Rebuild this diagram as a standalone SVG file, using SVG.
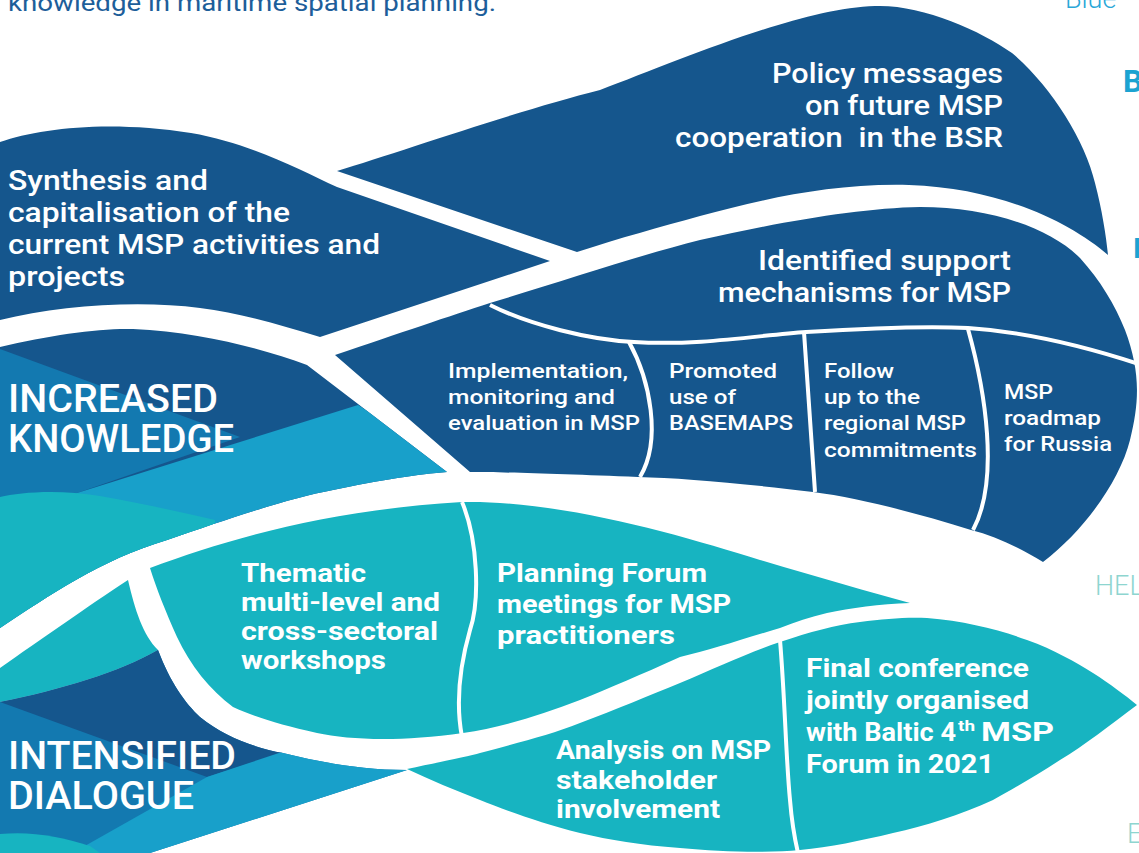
<svg xmlns="http://www.w3.org/2000/svg" width="1139" height="853" viewBox="0 0 1139 853">
<style>
.dk{fill:#15568D}.st{fill:#1379B0}.lt{fill:#18A0CA}.tl{fill:#17B4C1}
.sep{fill:none;stroke:#fff;stroke-width:4}
text{font-family:Roboto,"Noto Sans","Liberation Sans",sans-serif;fill:#fff}
.m{font-weight:500;font-size:27px}
.s{font-weight:500;font-size:21px}
.b{font-weight:700;font-size:25px}
.h{font-weight:500;font-size:38px}
.edge{font-weight:300;font-size:27px}
</style>
<defs>
<clipPath id="tailTop"><path d="M0,347 C50,335 100,328 133,329 C200,332 260,348 307,365 L447,472 C420,474 380,480 333,490 C290,498 230,518 167,540 C100,560 50,595 0,628 Z"/></clipPath>
<clipPath id="tailBot"><path d="M0,702 C60,690 120,672 158,650 C170,682 185,703 200,717 C225,737 255,748 283,753 C320,762 360,770 407,770 L150,853 L0,853 Z"/></clipPath>
</defs>
<rect width="1139" height="853" fill="#fff"/>

<!-- edge texts -->
<text x="8" y="11" style="font-weight:400;font-size:24px;fill:#1D5E9A" textLength="488" lengthAdjust="spacingAndGlyphs">knowledge in maritime spatial planning.</text>
<text x="1065" y="8" class="edge" style="fill:#2AA7D8">Blue</text>
<text x="1123" y="92" style="font-weight:700;font-size:31px;fill:#1CA3D1">B</text>
<text x="1133" y="258" style="font-weight:700;font-size:28px;fill:#1CA3D1">I</text>
<text x="1095" y="595" class="edge" style="fill:#8ED5D0">HEL</text>
<text x="1127" y="843" class="edge" style="fill:#8ED5D0">E</text>

<!-- INCREASED KNOWLEDGE tail -->
<g id="increased-knowledge">
<g clip-path="url(#tailTop)">
<rect class="dk" x="0" y="300" width="470" height="340"/>
<polygon class="st" points="0,349 240,437 77,493 0,500"/>
<polygon class="lt" points="77,493 358,405 480,480 250,600 0,650 0,520"/>
<path class="tl" d="M0,497 C20,492 60,489 100,496 C140,503 180,512 215,520 L215,640 L0,640 Z"/>
</g>
<text class="h" x="8" y="412" textLength="210" lengthAdjust="spacingAndGlyphs">INCREASED</text>
<text class="h" x="8" y="452" textLength="226" lengthAdjust="spacingAndGlyphs">KNOWLEDGE</text>
</g>

<!-- Synthesis -->
<g id="synthesis">
<path class="dk" d="M0,142 C40,128 110,120 191,133 C250,143 300,170 337,187 L550,261 L320,337 C280,325 240,313 200,308 C140,300 60,305 0,320 Z"/>
<text class="m" x="8" y="190" textLength="200" lengthAdjust="spacingAndGlyphs">Synthesis and</text>
<text class="m" x="8" y="222" textLength="282" lengthAdjust="spacingAndGlyphs">capitalisation of the</text>
<text class="m" x="8" y="254" textLength="372" lengthAdjust="spacingAndGlyphs">current MSP activities and</text>
<text class="m" x="8" y="286" textLength="117" lengthAdjust="spacingAndGlyphs">projects</text>
</g>

<!-- Policy -->
<g id="policy">
<path class="dk" d="M337,171 C400,152 520,110 600,90 C680,60 800,8 875,6 C920,4 980,30 1012,53 C1050,85 1085,140 1095,183 C1102,210 1106,235 1108,255 C1070,222 1000,188 909,185 C830,183 760,200 700,216 C660,227 620,238 577,252 Z"/>
<text class="m" x="1003" y="83" text-anchor="end" textLength="231" lengthAdjust="spacingAndGlyphs">Policy messages</text>
<text class="m" x="1003" y="115" text-anchor="end" textLength="198" lengthAdjust="spacingAndGlyphs">on future MSP</text>
<text class="m" x="1003" y="147" text-anchor="end" textLength="328" lengthAdjust="spacingAndGlyphs" xml:space="preserve">cooperation  in the BSR</text>
</g>

<!-- Identified support + row of four -->
<g id="identified">
<path class="dk" d="M335,355 C400,333 450,316 490,303 C560,282 640,255 700,240 C780,222 860,208 920,207 C990,207 1050,228 1080,258 C1100,280 1115,305 1125,330 C1140,370 1140,400 1130,440 C1120,480 1085,530 1043,562 C1020,548 995,536 971,530 C920,514 860,498 813,492 C740,483 680,478 638,477 C560,474 500,472 470,472 Z"/>
<text class="m" x="1011" y="270" text-anchor="end" textLength="253" lengthAdjust="spacingAndGlyphs">Identified support</text>
<text class="m" x="1011" y="302" text-anchor="end" textLength="293" lengthAdjust="spacingAndGlyphs">mechanisms for MSP</text>
</g>
<g id="separators-top">
<path class="sep" d="M490,305 C530,325 590,340 634,342 C700,346 760,335 806,332 C870,328 930,326 968,328 C1030,332 1090,348 1139,364"/>
<path class="sep" d="M629,342 C650,380 662,440 640,477"/>
<path class="sep" d="M804,332 C808,390 812,450 815,492"/>
<path class="sep" d="M968,329 C985,390 1000,480 973,530"/>
</g>
<g id="implementation">
<text class="s" x="448" y="378" textLength="180" lengthAdjust="spacingAndGlyphs">Implementation,</text>
<text class="s" x="448" y="404" textLength="167" lengthAdjust="spacingAndGlyphs">monitoring and</text>
<text class="s" x="448" y="430" textLength="192" lengthAdjust="spacingAndGlyphs">evaluation in MSP</text>
</g>
<g id="basemaps">
<text class="s" x="669" y="378" textLength="108" lengthAdjust="spacingAndGlyphs">Promoted</text>
<text class="s" x="669" y="404" textLength="67" lengthAdjust="spacingAndGlyphs">use of</text>
<text class="s" x="669" y="430" textLength="124" lengthAdjust="spacingAndGlyphs">BASEMAPS</text>
</g>
<g id="follow-up">
<text class="s" x="824" y="378" textLength="70" lengthAdjust="spacingAndGlyphs">Follow</text>
<text class="s" x="824" y="404" textLength="96" lengthAdjust="spacingAndGlyphs">up to the</text>
<text class="s" x="824" y="430" textLength="142" lengthAdjust="spacingAndGlyphs">regional MSP</text>
<text class="s" x="824" y="457" textLength="153" lengthAdjust="spacingAndGlyphs">commitments</text>
</g>
<g id="roadmap">
<text class="s" x="1004" y="399" textLength="49" lengthAdjust="spacingAndGlyphs">MSP</text>
<text class="s" x="1004" y="425" textLength="97" lengthAdjust="spacingAndGlyphs">roadmap</text>
<text class="s" x="1004" y="451" textLength="108" lengthAdjust="spacingAndGlyphs">for Russia</text>
</g>

<!-- INTENSIFIED DIALOGUE tail -->
<g id="intensified-dialogue">
<path class="tl" d="M0,668 C40,640 90,605 128,580 C135,610 143,635 158,650 C120,672 60,690 0,702 Z"/>
<g clip-path="url(#tailBot)">
<rect class="st" x="0" y="640" width="420" height="213"/>
<polygon class="dk" points="0,700 160,640 320,700 283,753 207,777 0,702"/>
<polygon class="lt" points="207,777 300,746 450,760 150,860 60,860"/>
<path class="tl" d="M0,834 C30,831 60,836 90,846 L100,853 L0,853 Z"/>
</g>
<text class="h" x="8" y="769" textLength="228" lengthAdjust="spacingAndGlyphs">INTENSIFIED</text>
<text class="h" x="8" y="809" textLength="186" lengthAdjust="spacingAndGlyphs">DIALOGUE</text>
</g>

<!-- Thematic + Planning forum -->
<g id="thematic-planning-shape">
<path class="tl" d="M150,568 C230,538 330,510 462,502 C560,500 680,535 760,560 C820,578 870,592 910,603 C880,604 850,608 827,613 C810,617 795,622 780,628 C740,640 710,650 680,657 C640,675 610,688 580,700 C540,715 500,728 463,733 C400,742 350,740 317,733 C280,725 255,717 233,707 C210,690 190,665 177,637 C165,610 157,590 150,568 Z"/>
<path class="sep" d="M462,502 C478,540 480,600 470,630 C460,665 455,700 462,737"/>
</g>
<g id="thematic">
<text class="b" x="241" y="582" textLength="125" lengthAdjust="spacingAndGlyphs">Thematic</text>
<text class="b" x="241" y="611" textLength="199" lengthAdjust="spacingAndGlyphs">multi-level and</text>
<text class="b" x="241" y="640" textLength="197" lengthAdjust="spacingAndGlyphs">cross-sectoral</text>
<text class="b" x="241" y="669" textLength="145" lengthAdjust="spacingAndGlyphs">workshops</text>
</g>
<g id="planning-forum">
<text class="b" x="497" y="582" textLength="210" lengthAdjust="spacingAndGlyphs">Planning Forum</text>
<text class="b" x="497" y="613" textLength="234" lengthAdjust="spacingAndGlyphs">meetings for MSP</text>
<text class="b" x="497" y="644" textLength="178" lengthAdjust="spacingAndGlyphs">practitioners</text>
</g>

<!-- Analysis + Final conference -->
<g id="analysis-final-shape">
<path class="tl" d="M407,769 C440,762 470,756 480,753 C520,742 550,735 580,723 C615,710 650,695 680,683 C715,668 750,652 780,642 C810,632 835,625 860,622 C885,619 905,617 927,618 C965,621 1000,630 1027,640 C1055,650 1075,662 1093,673 C1110,684 1125,695 1137,705 C1110,725 1085,745 1060,760 C1040,773 1015,788 993,800 C960,815 925,826 893,833 C860,841 830,847 800,850 C770,853 720,852 680,848 C640,845 610,840 580,833 C540,823 505,810 480,800 C455,790 430,780 407,769 Z"/>
<path class="sep" d="M780,640 C785,700 786,760 790,800 C792,825 795,840 798,853"/>
</g>
<g id="analysis">
<text class="b" x="556" y="759" textLength="215" lengthAdjust="spacingAndGlyphs">Analysis on MSP</text>
<text class="b" x="556" y="789" textLength="161" lengthAdjust="spacingAndGlyphs">stakeholder</text>
<text class="b" x="556" y="818" textLength="164" lengthAdjust="spacingAndGlyphs">involvement</text>
</g>
<g id="final-conference">
<text class="b" x="806" y="677" textLength="223" lengthAdjust="spacingAndGlyphs">Final conference</text>
<text class="b" x="806" y="709" textLength="223" lengthAdjust="spacingAndGlyphs">jointly organised</text>
<text class="b" x="806" y="741" textLength="150" lengthAdjust="spacingAndGlyphs">with Baltic 4</text>
<text class="b" x="958" y="731" style="font-size:15px" textLength="17" lengthAdjust="spacingAndGlyphs">th</text>
<text class="b" x="981" y="741" textLength="73" lengthAdjust="spacingAndGlyphs">MSP</text>
<text class="b" x="806" y="773" textLength="188" lengthAdjust="spacingAndGlyphs">Forum in 2021</text>
</g>
</svg>
